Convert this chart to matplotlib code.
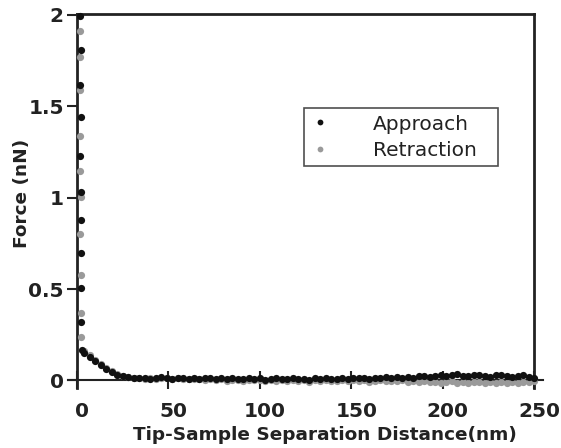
import matplotlib
matplotlib.use("Agg")
import matplotlib.pyplot as plt
import matplotlib.transforms as mtransforms

plt.rcParams['font.family'] = ['DejaVu Sans']

# ---- data ----
# steep contact part (x near 0)
app_contact_x = [1.8, 2.0, 1.9, 2.1, 1.8, 2.2, 2.0, 2.3, 2.1, 2.4, 3.0]
app_contact_y = [1.99, 1.806, 1.615, 1.44, 1.227, 1.03, 0.877, 0.697, 0.505, 0.32, 0.167]
ret_contact_x = [1.6, 1.8, 1.7, 1.9, 1.8, 2.0, 1.9, 2.1, 2.0, 2.2]
ret_contact_y = [1.91, 1.77, 1.59, 1.336, 1.145, 1.003, 0.80, 0.577, 0.369, 0.238]

# non-contact part
tail_x = [4, 7, 10, 13, 16, 19, 22, 25, 28, 31,
          34, 37, 40, 43, 46, 49, 52, 55, 58, 61,
          64, 67, 70, 73, 76, 79, 82, 85, 88, 91,
          94, 97, 100, 103, 106, 109, 112, 115, 118, 121,
          124, 127, 130, 133, 136, 139, 142, 145, 148, 151,
          154, 157, 160, 163, 166, 169, 172, 175, 178, 181,
          184, 187, 190, 193, 196, 199, 202, 205, 208, 211,
          214, 217, 220, 223, 226, 229, 232, 235, 238, 241,
          244, 247, 250]
app_tail_y = [0.150, 0.128, 0.104, 0.084, 0.064, 0.046, 0.032, 0.022, 0.017, 0.014,
              0.012, 0.016, 0.010, 0.013, 0.018, 0.011, 0.009, 0.015, 0.012, 0.008,
              0.014, 0.010, 0.016, 0.011, 0.007, 0.013, 0.009, 0.012, 0.006, 0.010,
              0.014, 0.008, 0.011, 0.005, 0.009, 0.013, 0.007, 0.010, 0.012, 0.006,
              0.009, 0.004, 0.011, 0.008, 0.012, 0.007, 0.010, 0.013, 0.009, 0.015,
              0.011, 0.014, 0.010, 0.016, 0.012, 0.018, 0.014, 0.017, 0.013, 0.020,
              0.016, 0.022, 0.025, 0.019, 0.027, 0.030, 0.024, 0.028, 0.033, 0.026,
              0.022, 0.029, 0.031, 0.025, 0.020, 0.028, 0.032, 0.024, 0.018, 0.026,
              0.029, 0.021, 0.015]
ret_tail_y = [0.160, 0.138, 0.112, 0.090, 0.070, 0.052, 0.036, 0.025, 0.018, 0.015,
              0.013, 0.010, 0.014, 0.008, 0.011, 0.015, 0.009, 0.012, 0.007, 0.010,
              0.006, 0.009, 0.004, 0.008, 0.002, 0.006, -0.002, 0.005, 0.001, -0.004,
              0.003, 0.000, 0.004, -0.003, 0.002, -0.005, 0.001, -0.002, 0.003, -0.004,
              0.000, -0.006, 0.002, -0.003, 0.001, -0.005, -0.001, 0.002, -0.004, 0.000,
              -0.003, 0.001, -0.006, -0.002, 0.000, -0.005, -0.001, -0.004, 0.001, -0.007,
              -0.003, -0.008, -0.004, -0.010, -0.006, -0.012, -0.008, -0.005, -0.011, -0.009,
              -0.013, -0.007, -0.010, -0.014, -0.008, -0.012, -0.009, -0.013, -0.006, -0.011,
              -0.010, -0.008, -0.005]

x_ticks = [0, 50, 100, 150, 200, 250]
y_ticks = [0, 0.5, 1, 1.5, 2]
y_tick_labels = ['0', '0.5', '1', '1.5', '2']

# ---- figure ----
fig = plt.figure(figsize=(5.61, 4.48), dpi=100)
ax = fig.add_axes([77/561, 1-388/448, (534-77)/561, (388-14)/448])

black = '#111111'
gray = '#9a9a9a'
ms = 5.2
ax.plot(ret_contact_x + tail_x, ret_contact_y + ret_tail_y, 'o', color=gray, ms=ms,
        mec='none', clip_on=False, zorder=3, label='Retraction')
ax.plot(app_contact_x + tail_x, app_contact_y + app_tail_y, 'o', color=black, ms=ms,
        mec='none', clip_on=False, zorder=4, label='Approach')

ax.set_xlim(0, 250)
ax.set_ylim(-0.041, 2.003)

for s in ax.spines.values():
    s.set_linewidth(2.0)
    s.set_color('#222222')
ax.spines['bottom'].set_position(('data', 0))
ax.spines['bottom'].set_linewidth(1.5)
ax.spines['bottom'].set_bounds(-5, 255)

tick_font = {'family': 'DejaVu Sans', 'weight': 'bold', 'size': 14.5}
ax.set_xticks(x_ticks)
ax.set_xticklabels([str(v) for v in x_ticks], fontdict=tick_font)
ax.set_yticks(y_ticks)
ax.set_yticklabels(y_tick_labels, fontdict=tick_font)
ax.tick_params(axis='x', direction='inout', length=13, width=1.5, pad=9,
               top=False, colors='#222222')
ax.tick_params(axis='y', direction='out', length=7.5, width=1.5, pad=2,
               right=False, colors='#222222')
for lab in ax.get_xticklabels():
    lab.set_transform(lab.get_transform() + mtransforms.ScaledTranslation(5/100, 0, fig.dpi_scale_trans))

ax.set_xlabel('Tip-Sample Separation Distance(nm)', fontsize=13.3, fontweight='bold', color='#222222')
ax.xaxis.set_label_coords(0.543, -0.102)
ax.set_ylabel('Force (nN)', fontsize=13.3, fontweight='bold', color='#222222')
ax.yaxis.set_label_coords(-0.100, 0.521)

handles, labels = ax.get_legend_handles_labels()
leg = ax.legend(handles[::-1], labels[::-1], loc='center left',
                bbox_to_anchor=(0.497, 0.591, 0.424, 0.16), mode='expand',
                frameon=True, fancybox=False, fontsize=14.5, markerscale=0.8,
                handlelength=1.0, handletextpad=2.1, borderpad=0.3, labelspacing=0.35,
                borderaxespad=0.0)
leg.get_frame().set_edgecolor('#222222')
leg.get_frame().set_linewidth(1.2)
for t in leg.get_texts():
    t.set_color('#222222')

fig.savefig('out.png', dpi=100)
